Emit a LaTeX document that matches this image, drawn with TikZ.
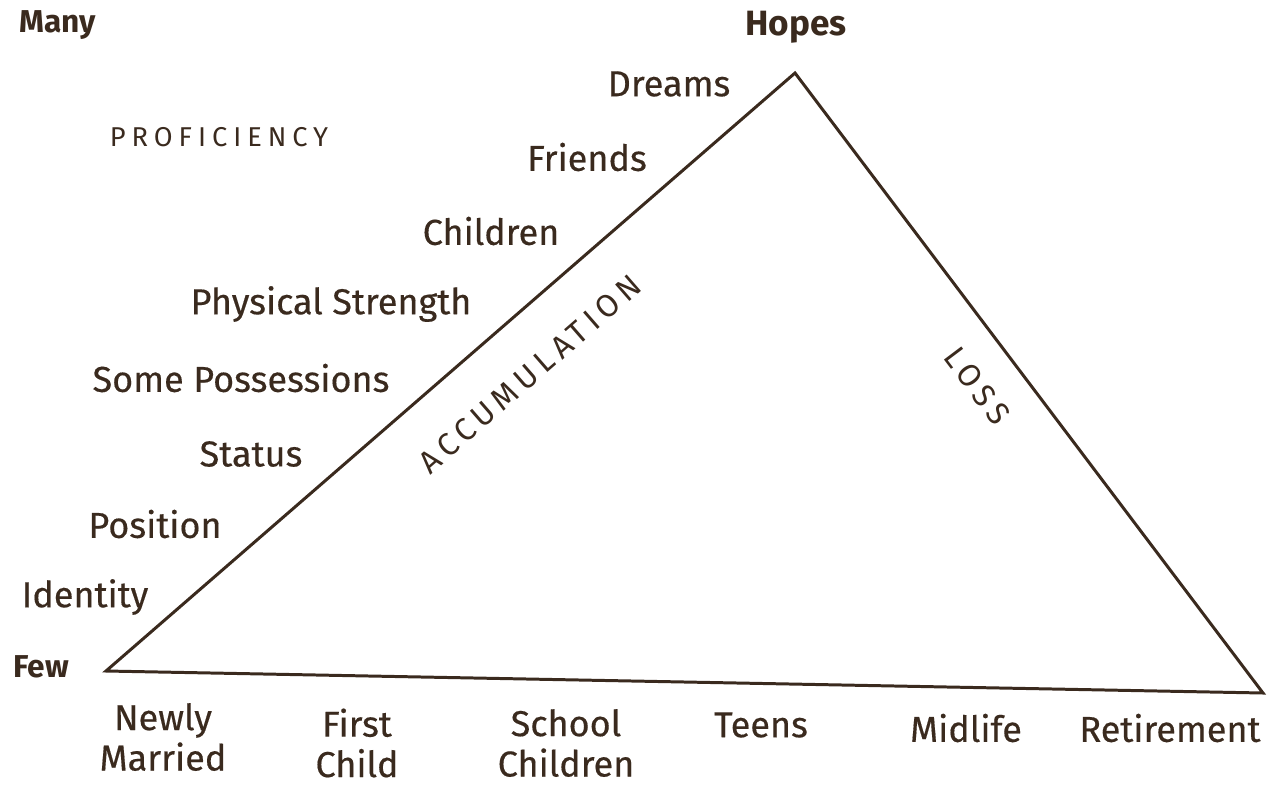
\documentclass[tikz,border=0pt]{standalone}
\usepackage{fontspec}
\setmainfont{Fira Sans}[FakeBold=0.4]
\newfontfamily\plainsans{Fira Sans}
\usepackage{tikz}
\usetikzlibrary{positioning}
\definecolor{ink}{HTML}{3A2A1E}
\tikzstyle{label}=[inner sep=0pt, text=ink, font=\fontsize{20.5}{24}\selectfont]
\tikzstyle{axis}=[label, font=\plainsans\fontsize{18}{20}\selectfont\bfseries]
\tikzstyle{phase}=[label, align=center, font=\fontsize{20.5}{23}\selectfont]
\tikzstyle{spaced}=[label, font=\plainsans\fontsize{15.5}{18}\selectfont\addfontfeature{LetterSpace=22}]
\tikzstyle{side}=[label, font=\plainsans\fontsize{18}{20}\selectfont\addfontfeature{LetterSpace=18}]
\tikzstyle{edge}=[draw=ink, line width=1.7pt, line join=miter]

\begin{document}
\begin{tikzpicture}[x=0.02cm, y=-0.02cm]
      \useasboundingbox (0,0) rectangle (1271,785);
      % triangle corners
      \coordinate (few-corner) at (106,671);
      \coordinate (top-corner) at (795,73);
      \coordinate (end-corner) at (1263,693);
      \draw [edge] (few-corner) -- (top-corner) -- (end-corner) -- cycle;

      \node [axis] (many) at (58,25) {Many};
      \node [axis, font=\plainsans\fontsize{20}{22}\selectfont\bfseries] (hopes) at (796,27) {Hopes};
      \node [axis] (few) at (41,667) {Few};
      \node [spaced] (proficiency) at (219,137) {PROFICIENCY};

      % things gathered along the way
      \node [label] (dreams) at (669,84) {Dreams};
      \node [label] (friends) at (587,157) {Friends};
      \node [label] (children) at (491,231) {Children};
      \node [label] (strength) at (331,304) {Physical Strength};
      \node [label] (possessions) at (241,378) {Some Possessions};
      \node [label] (status) at (251,454) {Status};
      \node [label] (position) at (155,524) {Position};
      \node [label] (identity) at (85,597) {Identity};

      \node [side, rotate=41] (accumulation) at (530,374) {ACCUMULATION};
      \node [side, rotate=-53] (loss) at (977,386) {LOSS};

      % stages of life
      \node [phase] (married) at (163,737) {Newly\\Married};
      \node [phase] (first) at (357,743) {First\\Child};
      \node [phase] (school) at (566,743) {School\\Children};
      \node [phase] (teens) at (761,725) {Teens};
      \node [phase] (midlife) at (966,728) {Midlife};
      \node [phase] (retirement) at (1170,728) {Retirement};
    \end{tikzpicture}
\end{document}
